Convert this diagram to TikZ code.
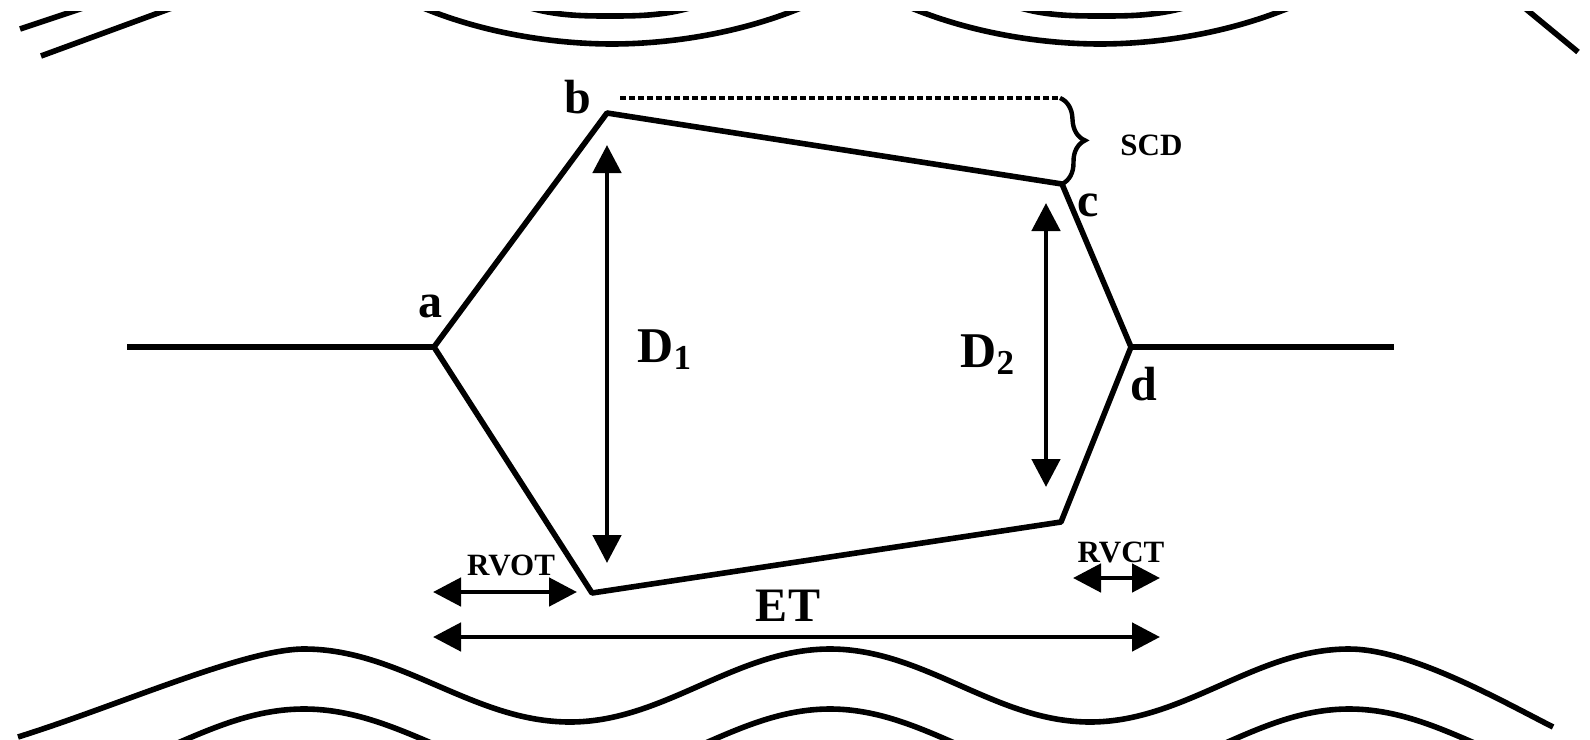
\documentclass[tikz,border=0pt]{standalone}
\usepackage{fontspec}
\setmainfont{Liberation Serif}
\usetikzlibrary{arrows.meta,positioning,decorations.pathreplacing}

\begin{document}
\begin{tikzpicture}[x=0.5pt, y=-0.5pt,
  wall/.style={line width=2.8pt, line join=round},
  wave/.style={line width=2.8pt},
  dim/.style={{Triangle[length=14pt,width=14pt]}-{Triangle[length=14pt,width=14pt]},
    line width=2.4pt},
  corner/.style={font=\fontsize{24}{24}\selectfont\bfseries, inner sep=0pt},
  diam/.style={font=\fontsize{25}{25}\selectfont\bfseries, inner sep=0pt},
  lab/.style={font=\fontsize{15.5}{16}\selectfont\bfseries, inner sep=0pt},
]
\useasboundingbox (0,0) rectangle (1590,739);
% corners of the outline
\coordinate (a) at (434,347);
\coordinate (b) at (607,113);
\coordinate (c) at (1062,184);
\coordinate (d) at (1131,347);
\coordinate (e) at (1061,522);
\coordinate (f) at (592,593);
\coordinate (inlet) at (127,347);
\coordinate (outlet) at (1394,347);
\draw[wall] (a) -- (b) -- (c) -- (d) -- (e) -- (f) -- cycle;
\draw[wall] (inlet) -- (a);
\draw[wall] (d) -- (outlet);
\node[corner, anchor=base] (la) at (430,317) {a};
\node[corner, anchor=base] (lb) at (578,113) {b};
\node[corner, anchor=base] (lc) at (1088,216) {c};
\node[corner, anchor=base] (ld) at (1144,400) {d};
% step down from b to c
\coordinate (scd1) at (620,98);
\coordinate (scd2) at (1060,98);
\draw[line width=2.2pt, dash pattern=on 3pt off 1.5pt] (scd1) -- (scd2);
\draw[line width=2.2pt, decorate, decoration={brace, amplitude=12pt}] (scd2) -- (c);
\node[lab, anchor=base west] (lscd) at (1120,155) {SCD};
% diameters
\coordinate (d1t) at (607,145);
\coordinate (d1b) at (607,563);
\coordinate (d2t) at (1046,203);
\coordinate (d2b) at (1046,487);
\draw[dim] (d1t) -- (d1b);
\draw[dim] (d2t) -- (d2b);
\node[diam, anchor=base west] (ld1) at (637,362) {D\textsubscript{1}};
\node[diam, anchor=base west] (ld2) at (960,367) {D\textsubscript{2}};
% lengths
\coordinate (rvot1) at (433,592);
\coordinate (rvot2) at (577,592);
\coordinate (rvct1) at (1073,578);
\coordinate (rvct2) at (1160,578);
\coordinate (et1) at (433,637);
\coordinate (et2) at (1160,637);
\draw[dim] (rvot1) -- (rvot2);
\draw[dim] (rvct1) -- (rvct2);
\draw[dim] (et1) -- (et2);
\node[lab, anchor=base] (lrvot) at (511,575) {RVOT};
\node[lab, anchor=base] (lrvct) at (1121,562) {RVCT};
\node[font=\fontsize{24}{24}\selectfont\bfseries, inner sep=0pt, anchor=base] (let) at (788,621) {ET};
% walls above and below
\begin{scope}
\clip (0,11) rectangle (1590,739);
\draw[wave] (20,29) -- (95,4);
\draw[wave] (41,56) -- (180,5);
\draw[wave] (405,0) .. controls (480,35) and (560,44) .. (612,44)
  .. controls (664,44) and (744,35) .. (819,0);
\draw[wave] (515,3) .. controls (550,16) and (580,16) .. (610,16)
  .. controls (640,16) and (670,16) .. (705,3);
\draw[wave] (893,0) .. controls (968,35) and (1048,44) .. (1100,44)
  .. controls (1152,44) and (1232,35) .. (1307,0);
\draw[wave] (1005,3) .. controls (1040,16) and (1070,16) .. (1102,16)
  .. controls (1132,16) and (1162,16) .. (1200,3);
\draw[wave] (1515,0) -- (1578,52);
\draw[wave] (18,737) .. controls (120,705) and (245,649) .. (304,649)
  cos (437,685.5)
  sin (570,722) cos (700,685.5) sin (830,649) cos (960,685.5)
  sin (1090,722) cos (1220,685.5) sin (1349,649)
  .. controls (1410,649) and (1500,700) .. (1553,727);
\draw[wave] (40,782) cos (172,745.5) sin (304,709) cos (437,745.5)
  sin (570,782) cos (700,745.5) sin (830,709) cos (960,745.5)
  sin (1090,782) cos (1220,745.5) sin (1349,709) cos (1480,745.5)
  sin (1610,782);
\end{scope}
\end{tikzpicture}
\end{document}
